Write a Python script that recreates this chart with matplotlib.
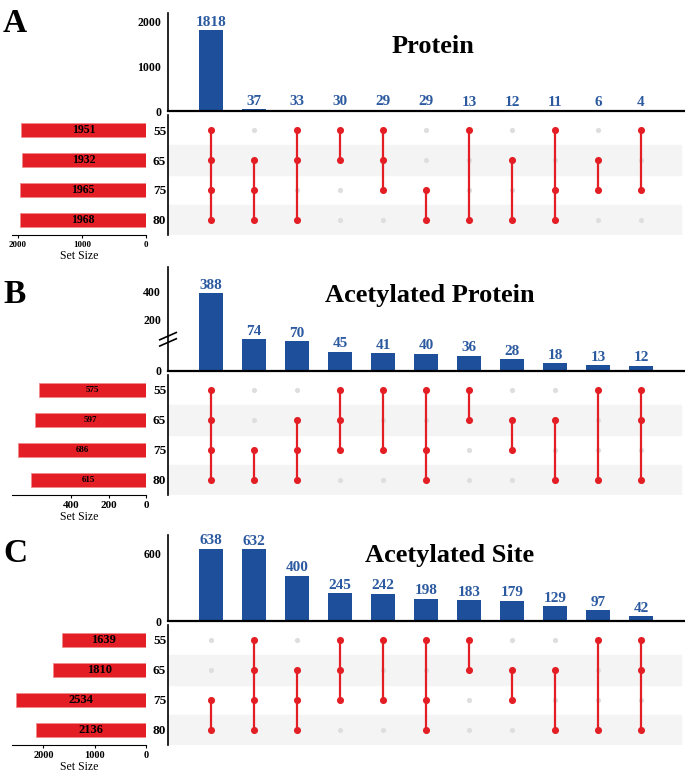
import numpy as np
import matplotlib
matplotlib.use('Agg')
import matplotlib.pyplot as plt

plt.rcParams['font.family'] = ['Liberation Serif', 'DejaVu Serif']
plt.rcParams['font.weight'] = 'bold'

W, H = 685, 773
set_names = ['55', '65', '75', '80']

# A: protein
protein_counts = [1818, 37, 33, 30, 29, 29, 13, 12, 11, 6, 4]
protein_members = [['55', '65', '75', '80'], ['65', '75', '80'], ['55', '65', '80'],
                   ['55', '65'], ['55', '65', '75'], ['75', '80'], ['55', '80'],
                   ['65', '80'], ['55', '75', '80'], ['65', '75'], ['55', '75']]
protein_sizes = [1951, 1932, 1965, 1968]

# B: acetylated protein
acprot_counts = [388, 74, 70, 45, 41, 40, 36, 28, 18, 13, 12]
acprot_members = [['55', '65', '75', '80'], ['75', '80'], ['65', '75', '80'],
                  ['55', '65', '75'], ['55', '75'], ['55', '75', '80'], ['55', '65'],
                  ['65', '75'], ['65', '80'], ['55', '80'], ['55', '65', '80']]
acprot_sizes = [575, 597, 686, 615]

# C: acetylated site
acsite_counts = [638, 632, 400, 245, 242, 198, 183, 179, 129, 97, 42]
acsite_members = [['75', '80'], ['55', '65', '75', '80'], ['65', '75', '80'],
                  ['55', '65', '75'], ['55', '75'], ['55', '75', '80'], ['55', '65'],
                  ['65', '75'], ['65', '80'], ['55', '80'], ['55', '65', '80']]
acsite_sizes = [1639, 1810, 2534, 2136]

BLUE = '#1d4f9b'
LBLUE = '#2c5aa0'
RED = '#e31e25'
GREY = '#dedede'
SHADE = '#f4f4f4'

fig = plt.figure(figsize=(W / 100, H / 100), dpi=100)


def px_ax(x0, y0, x1, y1):
    return fig.add_axes([x0 / W, 1 - y1 / H, (x1 - x0) / W, (y1 - y0) / H])


def broken_fwd(y):
    y = np.asarray(y, dtype=float)
    return np.where(y <= 80, y, 80 + (y - 80) * 0.33)


def broken_inv(u):
    u = np.asarray(u, dtype=float)
    return np.where(u <= 80, u, 80 + (u - 80) / 0.33)


def panel(letter, title, counts, members, sizes, bar_top, bar_base, ymax, yticks,
          size_max, size_ticks, title_x, title_y, letter_y, size_fs, tick_fs=7.5,
          broken=False):
    n = len(counts)
    xl = (-1.0, -1.0 + 517 / 43)

    # intersection bars
    ax = px_ax(168, bar_top, 685, bar_base)
    if broken:
        ax.set_yscale('function', functions=(broken_fwd, broken_inv))
    ax.bar(range(n), counts, width=0.58, color=BLUE)
    for i, c in enumerate(counts):
        ax.annotate(str(c), (i, c), xytext=(0, 1), textcoords='offset points',
                    ha='center', va='bottom', color=LBLUE, fontsize=11)
    ax.set_xlim(*xl)
    ax.set_ylim(0, ymax)
    ax.set_yticks(yticks)
    ax.set_xticks([])
    ax.tick_params(axis='y', length=0, labelsize=8.5, pad=5)
    for s in ['top', 'right']:
        ax.spines[s].set_visible(False)
    ax.spines['bottom'].set_linewidth(1.6)
    ax.spines['left'].set_linewidth(1.2)
    ax.patch.set_alpha(0)
    if broken:
        for dy in (0, 0.06):
            ax.plot([-0.016, 0.016], [0.24 + dy, 0.31 + dy], color='black', lw=1.2,
                    transform=ax.transAxes, clip_on=False)

    # matrix
    top = bar_base + 4
    mx = px_ax(168, top, 685, top + 120)
    mx.set_xlim(*xl)
    mx.set_ylim(3.5, -0.5)
    for r in (1, 3):
        mx.axhspan(r - 0.5, r + 0.5, xmin=0, xmax=0.992, color=SHADE, zorder=0)
    for i, mem in enumerate(members):
        rows = [set_names.index(m) for m in mem]
        off = [r for r in range(4) if r not in rows]
        mx.scatter([i] * len(off), off, s=14, color=GREY, zorder=2, linewidths=0)
        mx.plot([i, i], [min(rows), max(rows)], color=RED, lw=1.6, zorder=3)
        mx.scatter([i] * len(rows), rows, s=26, color=RED, zorder=4, linewidths=0)
    mx.set_xticks([])
    mx.set_yticks([])
    for s in ['top', 'right', 'bottom']:
        mx.spines[s].set_visible(False)
    mx.spines['left'].set_linewidth(1.2)

    # set sizes
    sx = px_ax(12, top, 146, top + 120)
    sx.barh(range(4), sizes, height=0.46, color=RED, edgecolor='#f08a8d', linewidth=0.6)
    for j, v in enumerate(sizes):
        sx.text(v / 2, j, str(v), ha='center', va='center', fontsize=size_fs, color='black')
    sx.set_xlim(size_max, 0)
    sx.set_ylim(3.5, -0.5)
    sx.set_yticks(range(4))
    sx.set_yticklabels(set_names)
    sx.yaxis.tick_right()
    sx.tick_params(axis='y', length=0, labelsize=9.5, pad=5)
    sx.set_xticks(size_ticks)
    sx.tick_params(axis='x', labelsize=tick_fs, length=2.5, pad=1.5)
    for s in ['top', 'right', 'left']:
        sx.spines[s].set_visible(False)
    sx.set_xlabel('Set Size', fontsize=8.5, labelpad=1)

    fig.text(title_x / W, 1 - title_y / H, title, ha='center', va='baseline', fontsize=19)
    fig.text(3 / W, 1 - letter_y / H, letter, ha='left', va='baseline', fontsize=24)


panel('A', 'Protein', protein_counts, protein_members, protein_sizes,
      13, 111, 2200, [0, 1000, 2000], 2093, [2000, 1000, 0], 433, 53, 32, 8.5,
      tick_fs=6.5)
panel('B', 'Acetylated Protein', acprot_counts, acprot_members, acprot_sizes,
      267, 371, 571, [0, 200, 400], 718, [400, 200, 0], 430, 302, 303, 6.5,
      tick_fs=8, broken=True)
panel('C', 'Acetylated Site', acsite_counts, acsite_members, acsite_sizes,
      535, 621, 760, [0, 600], 2612, [2000, 1000, 0], 450, 562, 562, 9)

fig.savefig('out.png', dpi=100)
